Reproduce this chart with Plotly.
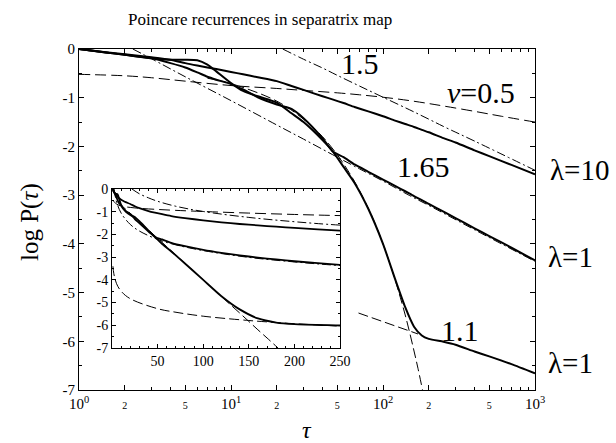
import plotly.graph_objects as go

# ---------------- data ----------------
tau = [1, 1.5, 2, 3, 4, 5, 6, 7, 8, 10, 12, 15, 20, 25, 30, 40, 47, 55, 65, 80,
       100, 120, 140, 160, 180, 200, 250, 300, 400, 500, 700, 1000]
# log10 P(tau), lambda = 10 (solid)
lam10 = [0, -0.065, -0.11, -0.17, -0.22, -0.29, -0.34, -0.38, -0.41, -0.47, -0.52, -0.58,
         -0.66, -0.76, -0.84, -0.97, -1.04, -1.11, -1.19, -1.28, -1.38, -1.47, -1.54,
         -1.60, -1.66, -1.71, -1.83, -1.92, -2.08, -2.20, -2.38, -2.57]
# lambda = 1, tail exponent 1.65 (solid)
lam1_a = [0, -0.07, -0.12, -0.19, -0.29, -0.38, -0.48, -0.57, -0.63, -0.72, -0.83, -0.99,
          -1.14, -1.23, -1.42, -1.83, -2.11, -2.22, -2.37, -2.52, -2.68, -2.81, -2.92,
          -3.02, -3.10, -3.18, -3.34, -3.47, -3.68, -3.84, -4.08, -4.34]
# lambda = 1, tail exponent 1.1 (solid)
lam1_b = [0, -0.07, -0.12, -0.19, -0.22, -0.22, -0.23, -0.32, -0.46, -0.70, -0.86, -0.97,
          -1.10, -1.32, -1.50, -1.87, -2.11, -2.42, -2.75, -3.28, -4.00, -4.72, -5.30,
          -5.70, -5.88, -5.95, -6.01, -6.07, -6.21, -6.31, -6.47, -6.66]

# dashed fits
tau_nu = [1, 2, 3, 5, 10, 20, 30, 50, 70, 100, 150, 200, 250, 400, 600, 1000]
fit_nu = [-0.52, -0.55, -0.59, -0.66, -0.75, -0.81, -0.85, -0.90, -0.94, -0.99, -1.06,
          -1.12, -1.17, -1.28, -1.38, -1.50]
tau_p15 = [21.9, 30, 40, 50, 70, 100, 150, 200, 250, 400, 1000]
fit_p15 = [0, -0.21, -0.39, -0.54, -0.76, -0.99, -1.25, -1.44, -1.59, -1.89, -2.49]
tau_p165 = [2.26, 3, 5, 10, 20, 30, 50, 70, 100, 150, 200, 250, 400, 1000]
fit_p165 = [0, -0.20, -0.57, -1.06, -1.56, -1.85, -2.22, -2.46, -2.71, -3.01, -3.21,
            -3.37, -3.71, -4.36]
tau_exp = [7, 10, 20, 30, 40, 50, 60, 70, 80, 90, 100, 110, 120, 130, 140, 150, 160,
           170, 182]
fit_exp = [-0.60, -0.71, -1.07, -1.44, -1.80, -2.17, -2.54, -2.90, -3.27, -3.63, -4.00,
           -4.37, -4.73, -5.10, -5.46, -5.83, -6.20, -6.56, -7.00]
tau_p11 = [1, 2, 5, 10, 20, 50, 69, 100, 150, 170, 200, 250]
fit_p11 = [-3.40, -3.73, -4.17, -4.50, -4.83, -5.27, -5.42, -5.60, -5.79, -5.85, -5.93,
           -6.04]

# tick labels
x_tickvals = [1, 2, 5, 10, 20, 50, 100, 200, 500, 1000]
x_ticktext = ["10<sup>0</sup>", "<span style='font-size:10px'>2</span>",
              "<span style='font-size:10px'>5</span>", "10<sup>1</sup>",
              "<span style='font-size:10px'>2</span>",
              "<span style='font-size:10px'>5</span>", "10<sup>2</sup>",
              "<span style='font-size:10px'>2</span>",
              "<span style='font-size:10px'>5</span>", "10<sup>3</sup>"]
x_minorvals = [3, 4, 6, 7, 8, 9, 30, 40, 60, 70, 80, 90, 300, 400, 600, 700, 800, 900]
y_tickvals = [0, -1, -2, -3, -4, -5, -6, -7]
y_ticktext = ["0", "-1", "-2", "-3", "-4", "-5", "-6", "-7"]
inset_xticks = [50, 100, 150, 200, 250]

FONT = "Liberation Serif, Times New Roman, serif"

# ---------------- figure ----------------
fig = go.Figure()

solid = dict(color="black", width=2)
solid_in = dict(color="black", width=1.8)
d_nu = dict(color="black", width=1, dash="11px,5px")
d_pl = dict(color="black", width=1, dash="9px,3px,2px,3px")
d_ex = dict(color="black", width=1, dash="10px,4px")

p11_main = [(t, v) for t, v in zip(tau_p11, fit_p11) if 69 <= t <= 170]

for xa, ya, sw in (("x", "y", solid), ("x2", "y2", solid_in)):
    fig.add_trace(go.Scatter(x=tau_nu, y=fit_nu, mode="lines", line=d_nu, xaxis=xa, yaxis=ya,
                             line_shape="spline"))
    fig.add_trace(go.Scatter(x=tau_p15, y=fit_p15, mode="lines", line=d_pl, xaxis=xa, yaxis=ya,
                             line_shape="spline"))
    fig.add_trace(go.Scatter(x=tau_p165, y=fit_p165, mode="lines", line=d_pl, xaxis=xa, yaxis=ya,
                             line_shape="spline"))
    fig.add_trace(go.Scatter(x=tau_exp, y=fit_exp, mode="lines", line=d_ex, xaxis=xa, yaxis=ya,
                             line_shape="spline"))
    if xa == "x":
        fig.add_trace(go.Scatter(x=[p[0] for p in p11_main], y=[p[1] for p in p11_main],
                                 mode="lines", line=d_ex, xaxis=xa, yaxis=ya))
    else:
        fig.add_trace(go.Scatter(x=tau_p11, y=fit_p11, mode="lines", line=d_ex, xaxis=xa,
                                 yaxis=ya, line_shape="spline"))
    for series in (lam10, lam1_a, lam1_b):
        fig.add_trace(go.Scatter(x=tau, y=series, mode="lines", line=sw, xaxis=xa, yaxis=ya,
                                 line_shape="spline", line_smoothing=0.6))

axis_common = dict(showline=True, linecolor="black", linewidth=1, mirror="ticks",
                   ticks="inside", tickcolor="black", showgrid=False, zeroline=False)

fig.update_layout(
    width=616, height=443,
    margin=dict(l=79, r=81, t=49, b=53),
    paper_bgcolor="white", plot_bgcolor="white",
    showlegend=False,
    font=dict(family=FONT, color="black"),
    xaxis=dict(type="log", range=[0, 3], domain=[0, 1], anchor="y",
               tickmode="array", tickvals=x_tickvals, ticktext=x_ticktext, ticklen=5,
               tickangle=0,
               minor=dict(tickmode="array", tickvals=x_minorvals, ticklen=3, ticks="inside",
                          tickcolor="black"),
               tickfont=dict(size=15, family=FONT), **axis_common),
    yaxis=dict(range=[-7, 0], domain=[0, 1], anchor="x",
               tickmode="array", tickvals=y_tickvals, ticktext=y_ticktext, ticklen=5,
               minor=dict(dtick=0.5, tick0=0, ticklen=3, ticks="inside", tickcolor="black"),
               tickfont=dict(size=15, family=FONT), **axis_common),
    xaxis2=dict(range=[0, 250], domain=[0.0724, 0.5724], anchor="y2",
                tickmode="array", tickvals=inset_xticks, ticklen=4, tickangle=0,
                minor=dict(dtick=10, tick0=0, ticklen=2, ticks="inside", tickcolor="black"),
                tickfont=dict(size=14, family=FONT), **axis_common),
    yaxis2=dict(range=[-7, 0], domain=[0.1232, 0.5894], anchor="x2",
                tickmode="array", tickvals=y_tickvals, ticktext=y_ticktext, ticklen=4,
                minor=dict(dtick=0.5, tick0=0, ticklen=2, ticks="inside", tickcolor="black"),
                tickfont=dict(size=14, family=FONT), **axis_common),
)


def px_to_paper(px, py):
    return (px - 79) / 456.0, (390 - py) / 341.0


def add_label(text, px, py, size=30, angle=0, anchor="center"):
    x, y = px_to_paper(px, py)
    fig.add_annotation(text=text, x=x, y=y, xref="paper", yref="paper", showarrow=False,
                       xanchor=anchor, yanchor="middle", textangle=angle,
                       font=dict(size=size, family=FONT, color="black"))


add_label("Poincare recurrences in separatrix map", 260, 19, size=17)
add_label("log P(<i>τ</i>)", 30, 222, size=25, angle=-90)
add_label("<i>τ</i>", 307, 430, size=24)
add_label("1.5", 360, 64)
add_label("<i>ν</i>=0.5", 481, 92)
add_label("1.65", 423, 166)
add_label("1.1", 460, 330)
add_label("λ=10", 579, 170, size=29)
add_label("λ=1", 570, 257, size=29)
add_label("λ=1", 570, 363, size=29)

fig.write_html("out.html",
               config={"displayModeBar": False},
               post_script="document.body.style.margin='0';"
                           "document.body.style.overflow='hidden';")
